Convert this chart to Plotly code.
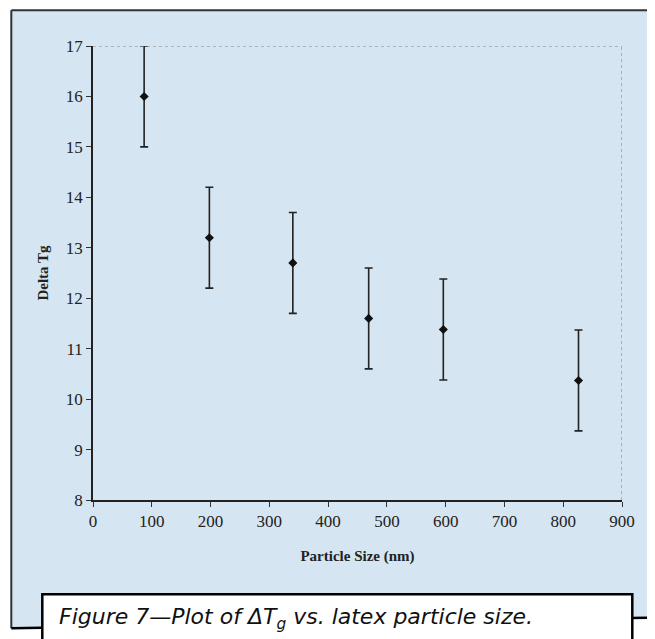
import plotly.graph_objects as go

# Data
particle_size = [87, 198, 340, 469, 596, 826]
delta_tg = [16.0, 13.2, 12.7, 11.6, 11.38, 10.37]
err = [1.0, 1.0, 1.0, 1.0, 1.0, 1.0]
x_ticks = [0, 100, 200, 300, 400, 500, 600, 700, 800, 900]
y_ticks = [8, 9, 10, 11, 12, 13, 14, 15, 16, 17]

OFF = 8  # page body margin
W, H = 655 - OFF, 639 - OFF
L, R, T, B = 92.7 - OFF, 621.7 - OFF, 45.7 - OFF, 499.8 - OFF  # plot area in pixels


def px(x):
    return (x - OFF - L) / (R - L)


def py(y):
    return (B - (y - OFF)) / (B - T)


fig = go.Figure()
fig.add_trace(go.Scatter(
    x=particle_size, y=delta_tg, mode="markers",
    marker=dict(symbol="diamond", size=7, color="#111"),
    error_y=dict(type="data", array=err, visible=True, color="#222",
                 thickness=1.6, width=4),
    showlegend=False, cliponaxis=False,
))

blue = "#d5e5f1"
shapes = [
    dict(type="path", xref="paper", yref="paper", layer="below",
         path=f"M {px(11)},{py(10)} L {px(680)},{py(10)} L {px(680)},{py(617)} L {px(11)},{py(628)} Z",
         fillcolor=blue, line=dict(width=0)),
    dict(type="line", xref="paper", yref="paper", layer="below",
         x0=px(11), x1=px(680), y0=py(10), y1=py(10), line=dict(color="#333", width=2)),
    dict(type="line", xref="paper", yref="paper", layer="below",
         x0=px(11), x1=px(11), y0=py(10), y1=py(628), line=dict(color="#333", width=2)),
    dict(type="line", xref="paper", yref="paper", layer="below",
         x0=px(11), x1=px(680), y0=py(628), y1=py(617), line=dict(color="#000", width=2.5)),
    dict(type="rect", xref="paper", yref="paper", layer="above",
         x0=px(42), x1=px(632), y0=py(594), y1=py(700),
         fillcolor="white", line=dict(color="#000", width=2.5)),
    dict(type="line", xref="x", yref="y", x0=0, x1=900, y0=17, y1=17,
         line=dict(color="#888", width=1, dash="dot")),
    dict(type="line", xref="x", yref="y", x0=900, x1=900, y0=8, y1=17,
         line=dict(color="#777", width=1, dash="dot")),
]

fig.update_layout(
    width=W, height=H,
    margin=dict(l=L, r=W - R, t=T, b=H - B, pad=0),
    paper_bgcolor="white", plot_bgcolor=blue,
    shapes=shapes,
    font=dict(family="Liberation Serif", size=17, color="#222"),
    xaxis=dict(range=[0, 900], tickvals=x_ticks, ticks="outside", ticklen=5,
               tickcolor="#333", showgrid=False, zeroline=False, showline=True,
               linecolor="#222", linewidth=1.5,
               title=dict(text="<b>Particle Size (nm)</b>", font=dict(size=15), standoff=20)),
    yaxis=dict(range=[8, 17], tickvals=y_ticks, ticks="outside", ticklen=5,
               tickcolor="#333", showgrid=False, zeroline=False, showline=True,
               linecolor="#222", linewidth=1.5,
               title=dict(text="<b>Delta Tg</b>", font=dict(size=15), standoff=14)),
    annotations=[dict(
        xref="paper", yref="paper", x=px(57), y=py(618), xanchor="left", yanchor="middle",
        text="<i>Figure 7—Plot of ΔT<sub>g</sub> vs. latex particle size.</i>",
        showarrow=False, font=dict(family="DejaVu Sans", size=22, color="#111"))],
)

fig.write_html("out.html")
